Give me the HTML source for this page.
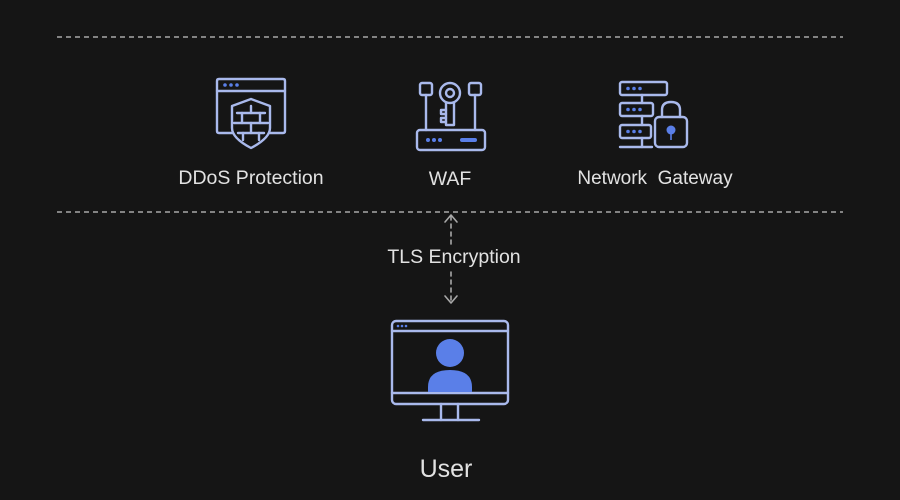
<!DOCTYPE html>
<html><head><meta charset="utf-8"><style>
html,body{margin:0;padding:0;background:#151515;}
svg{display:block;}
text{font-family:"Liberation Sans",Arial,sans-serif;fill:#e2e2e2;}
</style></head><body>
<svg width="900" height="500" viewBox="0 0 900 500" xmlns="http://www.w3.org/2000/svg">
<rect width="900" height="500" fill="#151515"/>
<!-- dashed lines -->
<line x1="57" y1="37" x2="843" y2="37" stroke="#a8a8a8" stroke-width="1.5" stroke-dasharray="5 4"/>
<line x1="57" y1="212" x2="843" y2="212" stroke="#a8a8a8" stroke-width="1.5" stroke-dasharray="5 4"/>

<g fill="none" stroke="#a9b9ec" stroke-width="2.4" stroke-linejoin="round" stroke-linecap="round">
  <!-- DDoS icon -->
  <path d="M233 133 H219 Q217 133 217 131 V81 Q217 79 219 79 H283 Q285 79 285 81 V131 Q285 133 283 133 H269"/>
  <line x1="217" y1="91" x2="285" y2="91"/>
  <path d="M251 99 L270 106 V128 Q270 138 251 148 Q232 138 232 128 V106 Z"/>
  <line x1="237" y1="113" x2="265" y2="113"/>
  <line x1="234" y1="123" x2="268" y2="123"/>
  <line x1="238" y1="133" x2="264" y2="133"/>
  <line x1="251" y1="106" x2="251" y2="113"/>
  <line x1="242" y1="113" x2="242" y2="123"/>
  <line x1="260" y1="113" x2="260" y2="123"/>
  <line x1="251" y1="123" x2="251" y2="133"/>
  <line x1="243" y1="133" x2="243" y2="140"/>
  <line x1="259" y1="133" x2="259" y2="140"/>

  <!-- WAF icon -->
  <rect x="420" y="83" width="12" height="12" rx="2"/>
  <rect x="469" y="83" width="12" height="12" rx="2"/>
  <line x1="426" y1="95" x2="426" y2="130"/>
  <line x1="475" y1="95" x2="475" y2="130"/>
  <rect x="417" y="130" width="68" height="20" rx="3"/>
  <circle cx="450" cy="93" r="10"/>
  <circle cx="450" cy="93" r="4"/>
  <path d="M446 103 V125 H454 V103"/>
  <path d="M446 110 H441 V114 H446 M446 118 H441 V122 H446"/>

  <!-- Network gateway icon -->
  <rect x="620" y="82" width="47" height="13" rx="2"/>
  <rect x="620" y="103" width="33" height="13" rx="2"/>
  <rect x="620" y="125" width="31" height="13" rx="2"/>
  <line x1="642" y1="95" x2="642" y2="103"/>
  <line x1="642" y1="116" x2="642" y2="125"/>
  <line x1="642" y1="138" x2="642" y2="147"/>
  <line x1="620" y1="147" x2="652" y2="147"/>
  <path d="M662 117 V110 Q662 102 671 102 Q680 102 680 110 V117"/>
  <rect x="655" y="117" width="32" height="30" rx="4"/>

  <!-- User monitor -->
  <rect x="392" y="321" width="116" height="83" rx="4"/>
  <line x1="392" y1="331" x2="508" y2="331"/>
  <line x1="392" y1="393" x2="508" y2="393"/>
  <path d="M441 404 V420 M458 404 V420"/>
  <line x1="423" y1="420" x2="479" y2="420"/>

  <!-- TLS arrow -->
  <line x1="451" y1="216" x2="451" y2="244" stroke="#a8a8a8" stroke-width="1.6" stroke-dasharray="4 4"/>
  <line x1="451" y1="272" x2="451" y2="302" stroke="#a8a8a8" stroke-width="1.6" stroke-dasharray="4 4"/>
  <path d="M445 222 L451 215 L457 222" stroke="#a8a8a8" stroke-width="1.6"/>
  <path d="M445 296 L451 303 L457 296" stroke="#a8a8a8" stroke-width="1.6"/>
</g>

<!-- blue fills -->
<g fill="#5a7fe8">
  <circle cx="225" cy="85" r="1.8"/><circle cx="231" cy="85" r="1.8"/><circle cx="237" cy="85" r="1.8"/>
  <circle cx="428" cy="140" r="2"/><circle cx="434" cy="140" r="2"/><circle cx="440" cy="140" r="2"/>
  <rect x="460" y="138" width="17" height="4" rx="2"/>
  <circle cx="628" cy="88.5" r="1.8"/><circle cx="634" cy="88.5" r="1.8"/><circle cx="640" cy="88.5" r="1.8"/>
  <circle cx="628" cy="109.5" r="1.8"/><circle cx="634" cy="109.5" r="1.8"/><circle cx="640" cy="109.5" r="1.8"/>
  <circle cx="628" cy="131.5" r="1.8"/><circle cx="634" cy="131.5" r="1.8"/><circle cx="640" cy="131.5" r="1.8"/>
  <circle cx="671" cy="130" r="4.5"/>
  <circle cx="398" cy="326" r="1.3"/><circle cx="402" cy="326" r="1.3"/><circle cx="406" cy="326" r="1.3"/>
  <circle cx="450" cy="353" r="14"/>
  <path d="M428 392 V387 Q428 370 450 370 Q472 370 472 387 V392 Z"/>
</g>
<line x1="671" y1="132" x2="671" y2="140" stroke="#5a7fe8" stroke-width="1.6"/>

<!-- labels -->
<text x="251" y="184" font-size="19.5" text-anchor="middle">DDoS Protection</text>
<text x="450" y="185" font-size="19.5" text-anchor="middle">WAF</text>
<text x="655" y="184" font-size="19" text-anchor="middle" xml:space="preserve">Network  Gateway</text>
<text x="454" y="263" font-size="19.5" text-anchor="middle">TLS Encryption</text>
<text x="446" y="477" font-size="25" text-anchor="middle">User</text>
</svg>
</body></html>
